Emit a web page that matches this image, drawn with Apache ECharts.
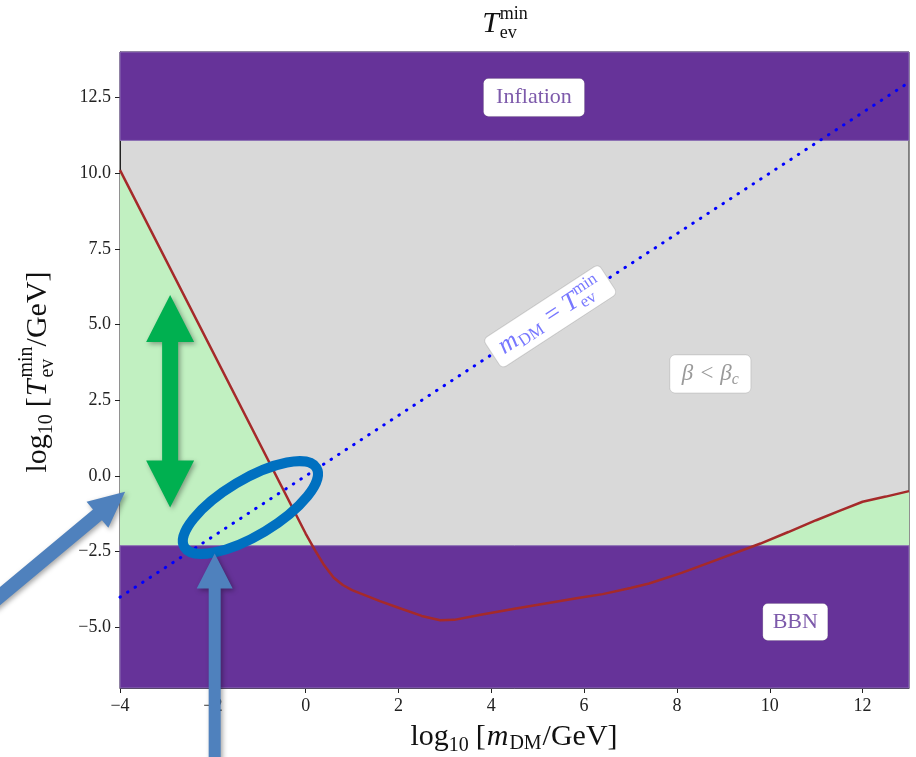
<!DOCTYPE html>
<html><head><meta charset="utf-8">
<script src="https://cdn.jsdelivr.net/npm/echarts@6/dist/echarts.min.js"></script>
<style>html,body{margin:0;padding:0;background:#fff}#c{width:916px;height:757px}</style>
</head><body><div id="c"></div>
<script>
// ---- data ----
const redX = [-4, 0, 0.2, 0.4, 0.6, 0.8, 1.0, 1.3, 1.6, 2.0, 2.5, 2.9, 3.2, 3.8, 4.5, 5.2, 5.9, 6.4, 7.0, 7.4, 8.1, 8.8, 9.8, 10.4, 11.0, 11.5, 12.0, 12.5, 13.0];
const redY = [10.1, -1.9, -2.45, -2.95, -3.35, -3.6, -3.77, -3.95, -4.13, -4.35, -4.62, -4.76, -4.75, -4.57, -4.38, -4.2, -4.02, -3.9, -3.7, -3.55, -3.2, -2.8, -2.23, -1.85, -1.46, -1.15, -0.85, -0.68, -0.5];
const diagX = [-4, 13];
const diagY = [-4, 13];
const bbnTop = -2.3;
const inflationBottom = 11.08;
const xMin = -4, xMax = 13, yMin = -7, yMax = 14;
const xTicks = [-4, -2, 0, 2, 4, 6, 8, 10, 12];
const yTicks = [-5, -2.5, 0, 2.5, 5, 7.5, 10, 12.5];

const FONT = '"Liberation Serif", "DejaVu Serif", serif';
const PURPLE = '#663399';
const fmtNum = (v, d) => { const s = Math.abs(v).toFixed(d); return v < 0 ? '\u2212' + s : s; };

const redData = redX.map((x, i) => [x, redY[i]]);
const diagData = diagX.map((x, i) => [x, diagY[i]]);
const bands = [[xMin, yMin, xMax, bbnTop], [xMin, inflationBottom, xMax, yMax]];

const chart = echarts.init(document.getElementById('c'), null, {renderer: 'canvas'});
chart.setOption({
  animation: false,
  backgroundColor: '#fff',
  grid: {left: 120, right: 7, top: 52, bottom: 69, show: true, backgroundColor: '#d9d9d9', borderColor: '#222', borderWidth: 1},
  xAxis: {
    type: 'value', min: xMin, max: xMax, interval: 2,
    axisLine: {show: true, onZero: false, lineStyle: {color: '#222'}},
    axisTick: {show: true, length: 5, lineStyle: {color: '#222'}, customValues: xTicks},
    axisLabel: {customValues: xTicks, formatter: v => fmtNum(v, 0), fontFamily: FONT, fontSize: 18, color: '#222', margin: 9},
    splitLine: {show: false}
  },
  yAxis: {
    type: 'value', min: yMin, max: yMax,
    axisLine: {show: true, onZero: false, lineStyle: {color: '#222'}},
    axisTick: {show: true, length: 5, lineStyle: {color: '#222'}, customValues: yTicks},
    axisLabel: {customValues: yTicks, formatter: v => fmtNum(v, 1), fontFamily: FONT, fontSize: 18, color: '#222', margin: 9},
    splitLine: {show: false}
  },
  series: [
    {type: 'line', data: redData, z: 1, symbol: 'none', lineStyle: {width: 0},
     areaStyle: {color: '#c1f0c1', opacity: 1, origin: 'start'}, silent: true},
    {type: 'custom', z: 2, data: bands, encode: {x: [0, 2], y: [1, 3]},
     renderItem: (params, api) => {
       const p0 = api.coord([api.value(0), api.value(1)]);
       const p1 = api.coord([api.value(2), api.value(3)]);
       return {type: 'rect', shape: {x: p0[0], y: p1[1], width: p1[0] - p0[0], height: p0[1] - p1[1]},
               style: {fill: PURPLE, stroke: '#8c70b4', lineWidth: 1}};
     }},
    {type: 'line', data: redData, z: 3, symbol: 'none', lineStyle: {color: '#a52a2a', width: 2.5}},
    {type: 'line', data: diagData, z: 4, symbol: 'none', lineStyle: {color: '#0000ff', width: 3, type: [0.5, 8.5], cap: 'round'}}
  ]
});

// ---- annotations ----
const ctx = document.createElement('canvas').getContext('2d');
function mw(t, s, it) { ctx.font = (it ? 'italic ' : '') + s + 'px ' + FONT; return ctx.measureText(t).width; }
function mathGroup(pieces, color) {
  let cur = 0, prevStart = 0; const items = [];
  pieces.forEach(p => {
    const x = p.stack ? prevStart : cur;
    const w = mw(p.t, p.s, p.it);
    items.push({p, x});
    if (!p.stack) prevStart = x;
    cur = Math.max(cur, x + w + (p.gap || 0));
  });
  const off = -cur / 2;
  return items.map(({p, x}) => ({
    type: 'text', z: 101,
    style: {text: p.t, x: x + off, y: p.dy || 0, fill: color, fontSize: p.s, fontFamily: FONT,
            fontStyle: p.it ? 'italic' : 'normal', align: 'left', verticalAlign: 'middle',
            textAlign: 'left', textVerticalAlign: 'middle'}
  }));
}
const px = (x, y) => chart.convertToPixel({gridIndex: 0}, [x, y]);

function arrowPts(S, T, hl, hw, sw) {
  const dx = T[0] - S[0], dy = T[1] - S[1], L = Math.hypot(dx, dy);
  const u = [dx / L, dy / L], n = [-u[1], u[0]];
  const B = [T[0] - u[0] * hl, T[1] - u[1] * hl];
  const f = (P, k) => [P[0] + n[0] * k, P[1] + n[1] * k];
  return [f(S, sw), f(B, sw), f(B, hw), T, f(B, -hw), f(B, -sw), f(S, -sw)];
}
function dblArrowPts(T1, T2, hl, hw, sw) {
  const dx = T2[0] - T1[0], dy = T2[1] - T1[1], L = Math.hypot(dx, dy);
  const u = [dx / L, dy / L], n = [-u[1], u[0]];
  const B1 = [T1[0] + u[0] * hl, T1[1] + u[1] * hl], B2 = [T2[0] - u[0] * hl, T2[1] - u[1] * hl];
  const f = (P, k) => [P[0] + n[0] * k, P[1] + n[1] * k];
  return [T1, f(B1, hw), f(B1, sw), f(B2, sw), f(B2, hw), T2, f(B2, -hw), f(B2, -sw), f(B1, -sw), f(B1, -hw)];
}
const shadow = {shadowBlur: 5, shadowColor: 'rgba(0,0,0,0.35)', shadowOffsetX: 2, shadowOffsetY: 2};

function box(cx, cy, w, h, rot, pieces, color) {
  return {type: 'group', x: cx, y: cy, rotation: rot || 0, z: 100, children: [
    {type: 'rect', z: 100, shape: {x: -w / 2, y: -h / 2, width: w, height: h, r: 5}, style: {fill: '#fff', stroke: 'rgba(0,0,0,0.12)', lineWidth: 1}},
    ...mathGroup(pieces, color)
  ]};
}

const pInfl = px(4.92, 12.5), pBBN = px(10.55, -4.82), pBeta = px(8.72, 3.37), pDiag = px(5.27, 5.27);
const d0 = px(0, 0), d1 = px(1, 1);
const diagRot = Math.atan2(d0[1] - d1[1], d1[0] - d0[0]);

const gArrowTop = px(-2.92, 5.98), gArrowBot = px(-2.92, -1.04);
const ell = px(-1.19, -1.04);
const a1Tip = px(-3.89, -0.52), a1Tail = px(-6.8, -4.24);
const a2Tip = px(-1.96, -2.56), a2Tail = px(-1.96, -9.73);

const graphics = [
  box(pInfl[0], pInfl[1], 101, 38, 0, [{t: 'Inflation', s: 22}], '#7d5aab'),
  box(pBBN[0], pBBN[1], 65, 37, 0, [{t: 'BBN', s: 22}], '#7d5aab'),
  box(pBeta[0], pBeta[1], 81, 38, 0, [{t: '\u03b2 < \u03b2', s: 23, it: true}, {t: 'c', s: 16, it: true, dy: 6}], '#9a9a9a'),
  box(pDiag[0], pDiag[1], 138, 35, diagRot, [
    {t: 'm', s: 26, it: true, gap: 1}, {t: 'DM', s: 17, dy: 6, gap: 2}, {t: ' = ', s: 26}, {t: 'T', s: 26, it: true, gap: 1},
    {t: 'min', s: 17, dy: -8}, {t: 'ev', s: 17, dy: 7, stack: true}], '#7878ff'),
  // title
  {type: 'group', x: 505, y: 24, z: 100, children: mathGroup([
    {t: 'T', s: 30, it: true, gap: 1}, {t: 'min', s: 18, dy: -10}, {t: 'ev', s: 18, dy: 9, stack: true}], '#111')},
  // x axis label
  {type: 'group', x: 514, y: 737, z: 100, children: mathGroup([
    {t: 'log', s: 30}, {t: '10', s: 20, dy: 9, gap: 7}, {t: '[', s: 30, gap: 1}, {t: 'm', s: 30, it: true, gap: 1},
    {t: 'DM', s: 20, dy: 7, gap: 1}, {t: '/GeV]', s: 30}], '#111')},
  // y axis label
  {type: 'group', x: 38, y: 372, rotation: Math.PI / 2, z: 100, children: mathGroup([
    {t: 'log', s: 30}, {t: '10', s: 20, dy: 9, gap: 7}, {t: '[', s: 30, gap: 1}, {t: 'T', s: 30, it: true, gap: 2},
    {t: 'min', s: 20, dy: -11}, {t: 'ev', s: 20, dy: 10, stack: true, gap: 2}, {t: '/GeV]', s: 30}], '#111')},
  // green double arrow
  {type: 'polygon', z: 110, shape: {points: dblArrowPts(gArrowTop, gArrowBot, 47, 24, 8)}, style: Object.assign({fill: '#00b050'}, shadow)},
  // blue ellipse
  {type: 'ellipse', z: 110, x: ell[0], y: ell[1], rotation: 31 * Math.PI / 180,
   shape: {cx: 0, cy: 0, rx: 77, ry: 28}, style: {fill: 'none', stroke: '#0070c0', lineWidth: 10}},
  // blue arrows
  {type: 'polygon', z: 111, shape: {points: arrowPts(a1Tail, a1Tip, 36, 17, 7)}, style: Object.assign({fill: '#4f81bd'}, shadow)},
  {type: 'polygon', z: 111, shape: {points: arrowPts(a2Tail, a2Tip, 35, 18, 6)}, style: Object.assign({fill: '#4f81bd'}, shadow)}
];
chart.setOption({graphic: graphics});
</script></body></html>
